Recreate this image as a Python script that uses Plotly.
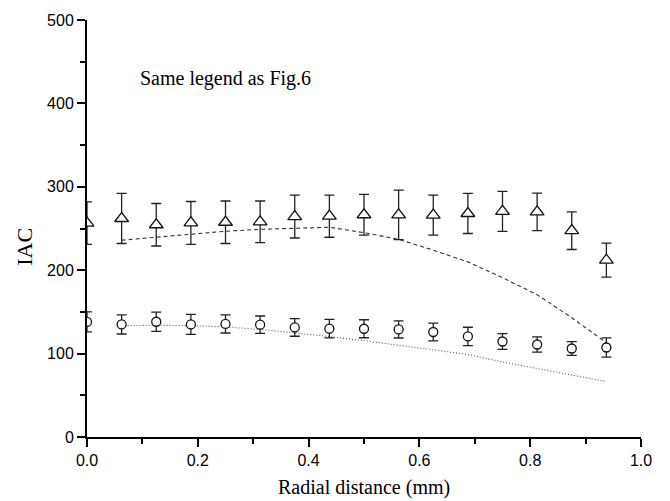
import plotly.graph_objects as go

# Radial positions (mm)
radial = [0.0, 0.0625, 0.125, 0.1875, 0.25, 0.3125, 0.375, 0.4375,
          0.5, 0.5625, 0.625, 0.6875, 0.75, 0.8125, 0.875, 0.9375]

# Measured IAC, upper group (triangles) with standard deviations
iac_tri = [256.5, 262, 254.5, 256.7, 257.5, 258, 264.3, 264.8,
           266.5, 266.3, 266, 268, 270.5, 270, 247.4, 212]
err_tri = [25.5, 30, 25.5, 25.7, 25.5, 25, 25.7, 25.3,
           24.5, 29.7, 24, 24, 24, 22.5, 22.6, 20.4]

# Measured IAC, lower group (circles) with standard deviations
iac_circ = [138, 135, 138.2, 135, 135.6, 134.7, 131.4, 129.9,
            129.8, 129, 125.9, 120.6, 114.5, 110.9, 106.1, 107.3]
err_circ = [12, 11.5, 11.5, 12, 10.9, 10.4, 10.6, 11.1,
            10.8, 10.3, 10.7, 11, 9.5, 9.1, 8.3, 11.5]

# Model curves (start at the second radial position)
model_x = radial[1:]
model_upper = [236, 239.5, 243.5, 246.7, 249, 250.5, 251.5,
               245, 237, 224, 210, 191, 170.6, 143, 113]
model_lower = [133.5, 134, 133.5, 132, 129, 125, 120.5,
               115.5, 110, 104.5, 99, 90, 82, 74, 66.5]

serif = "Liberation Serif"
sans = "Liberation Sans"

fig = go.Figure()

fig.add_trace(go.Scatter(
    x=model_x, y=model_upper, mode="lines",
    line=dict(color="#333333", width=1.1, dash="4px,3px"),
    showlegend=False,
))
fig.add_trace(go.Scatter(
    x=model_x, y=model_lower, mode="lines",
    line=dict(color="#555555", width=1.1, dash="1px,2px"),
    showlegend=False,
))

fig.add_trace(go.Scatter(
    x=radial, y=iac_tri, mode="markers",
    marker=dict(symbol="triangle-up", size=12, color="white",
                line=dict(color="#111111", width=1.3)),
    error_y=dict(type="data", array=err_tri, visible=True,
                 color="#222222", thickness=1.3, width=5),
    showlegend=False,
))
fig.add_trace(go.Scatter(
    x=radial, y=iac_circ, mode="markers",
    marker=dict(symbol="circle", size=9, color="white",
                line=dict(color="#111111", width=1.3)),
    error_y=dict(type="data", array=err_circ, visible=True,
                 color="#222222", thickness=1.3, width=5),
    showlegend=False,
))

axis_common = dict(
    showline=True, linecolor="black", linewidth=2,
    showgrid=False, zeroline=False, mirror=False,
    ticks="outside", ticklen=8, tickwidth=1.6, tickcolor="black",
    tickfont=dict(family=sans, size=16, color="black"),
)

fig.update_xaxes(
    range=[0, 1], tick0=0, dtick=0.2, tickformat=".1f",
    minor=dict(dtick=0.1, ticks="outside", ticklen=5, tickwidth=1.6,
               tickcolor="black"),
    **axis_common,
)
fig.update_yaxes(
    range=[0, 500], tick0=0, dtick=100,
    minor=dict(dtick=50, ticks="outside", ticklen=5, tickwidth=1.6,
               tickcolor="black"),
    **axis_common,
)

fig.add_annotation(
    x=0.5, y=-0.121, xref="paper", yref="paper",
    text="Radial distance (mm)", showarrow=False,
    xanchor="center", yanchor="middle",
    font=dict(family=serif, size=20, color="black"),
)
fig.add_annotation(
    x=-0.112, y=0.456, xref="paper", yref="paper",
    text="IAC", showarrow=False, textangle=-90,
    xanchor="center", yanchor="middle",
    font=dict(family=serif, size=22, color="black"),
)
fig.add_annotation(
    x=0.092, y=430, xref="x", yref="y",
    text="Same legend as Fig.6", showarrow=False,
    xanchor="left", yanchor="middle",
    font=dict(family=serif, size=20, color="black"),
)

fig.update_layout(
    width=670, height=501,
    margin=dict(l=87, r=29, t=16, b=64),
    paper_bgcolor="white", plot_bgcolor="white",
    showlegend=False,
)

fig.write_html("out.html")
